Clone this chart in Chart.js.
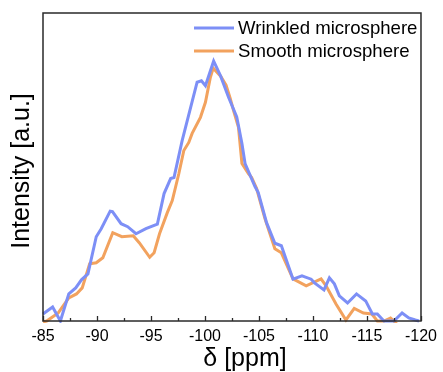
<!DOCTYPE html>
<html>
<head>
<meta charset="utf-8">
<script src="https://cdn.jsdelivr.net/npm/chart.js@4.4.0/dist/chart.umd.min.js"></script>
<style>
  html, body { margin: 0; padding: 0; background: #fff; }
  #wrap { width: 443px; height: 372px; }
</style>
</head>
<body>
<div id="wrap"><canvas id="c" width="443" height="372"></canvas></div>
<script>
// ---- data ----
const seriesNames = ['Wrinkled microsphere', 'Smooth microsphere'];
const xTitle = 'δ [ppm]';
const yTitle = 'Intensity [a.u.]';

const wrinkledPpm = [-85.0, -85.89, -86.61, -87.39, -88.03, -88.56, -89.16, -89.93, -90.39, -91.22, -91.43, -92.23, -92.84, -93.61, -94.53, -95.59, -96.21, -96.82, -97.13, -97.89, -99.27, -99.67, -100.04, -100.80, -101.45, -102.18, -102.94, -103.42, -103.71, -104.63, -104.93, -105.70, -106.47, -107.07, -108.15, -108.98, -109.83, -110.14, -111.02, -111.52, -111.98, -112.44, -113.20, -114.03, -114.88, -115.50, -115.96, -116.57, -117.49, -118.25, -118.87, -119.48, -119.82];
const wrinkledIntensity = [7, 14, 0, 27, 33, 41, 47, 84, 92, 109.5, 109, 97, 94, 87, 92, 96.5, 127, 142, 143, 180, 238, 239.5, 234.5, 259, 244, 223, 203.5, 177, 157, 134, 128, 98, 77.5, 75, 41.7, 45, 41.7, 38, 31, 43, 37, 25, 18, 27, 20, 7, 7, 0, 0, 8, 3, 1, 0];

const smoothPpm = [-85.0, -85.34, -86.41, -87.39, -88.10, -88.63, -89.32, -89.93, -90.54, -91.46, -92.30, -93.36, -93.91, -94.88, -95.29, -95.79, -96.51, -96.97, -97.58, -98.04, -98.50, -98.81, -99.58, -100.04, -100.50, -100.76, -101.45, -101.95, -102.33, -102.64, -103.10, -103.42, -104.02, -104.32, -104.78, -105.55, -106.47, -107.07, -108.15, -109.37, -110.75, -111.21, -112.13, -113.05, -113.82, -114.67, -115.45, -115.96, -116.57, -117.18, -117.49, -118.2];
const smoothIntensity = [-1, 0, 8, 23, 27, 33, 57, 58, 63, 88, 84, 85, 78, 63.5, 68, 87, 108, 120, 147, 170, 178, 187, 203, 218, 243, 252, 244, 235, 222, 210, 193, 157, 147, 143, 132, 102, 72, 68, 42, 35, 42, 35, 17, 1, 12.5, 8, 7, 0, 0, 3, 0, -8];

const xTickValues = [-85, -90, -95, -100, -105, -110, -115, -120];
const xMinorValues = [-87.5, -92.5, -97.5, -102.5, -107.5, -112.5, -117.5];

const seriesColors = ['#7d8ff6', '#f2a25e'];

// ---- build ----
function pts(xs, ys) { return xs.map((x, i) => ({ x: x, y: ys[i] })); }

const FONT = '"Liberation Sans", Arial, Helvetica, sans-serif';
Chart.defaults.font.family = FONT;
Chart.defaults.color = '#000';

const boxAndTicks = {
  id: 'boxAndTicks',
  afterDatasetsDraw(chart) {
    const { ctx, chartArea: a, scales } = chart;
    const x = scales.x;
    ctx.save();
    ctx.strokeStyle = '#2a2a2a';
    ctx.lineWidth = 1.5;
    ctx.strokeRect(a.left, a.top, a.right - a.left, a.bottom - a.top);
    ctx.lineWidth = 1.3;
    ctx.beginPath();
    xTickValues.forEach(v => {
      const px = Math.round(x.getPixelForValue(v)) + 0.5;
      ctx.moveTo(px, a.bottom); ctx.lineTo(px, a.bottom - 5);
    });
    xMinorValues.forEach(v => {
      const px = Math.round(x.getPixelForValue(v)) + 0.5;
      ctx.moveTo(px, a.bottom); ctx.lineTo(px, a.bottom - 3);
    });
    ctx.stroke();

    // legend (inside plot, top-right)
    const rows = [28, 51];
    chart.data.datasets.forEach((ds, i) => {
      ctx.strokeStyle = ds.borderColor;
      ctx.lineWidth = 3.2;
      ctx.beginPath();
      ctx.moveTo(194, rows[i]); ctx.lineTo(234, rows[i]);
      ctx.stroke();
      ctx.fillStyle = '#000';
      ctx.font = '18.6px ' + FONT;
      ctx.textBaseline = 'middle';
      ctx.textAlign = 'left';
      ctx.fillText(ds.label, 238, rows[i] + 1);
    });

    // axis titles
    ctx.fillStyle = '#000';
    ctx.textAlign = 'center';
    ctx.textBaseline = 'middle';
    ctx.font = '25px ' + FONT;
    ctx.fillText(xTitle, 245, 359);
    ctx.translate(22, 171);
    ctx.rotate(-Math.PI / 2);
    ctx.fillText(yTitle, 0, 0);
    ctx.restore();
  }
};

new Chart(document.getElementById('c'), {
  type: 'line',
  data: {
    datasets: [
      { label: seriesNames[0], data: pts(wrinkledPpm, wrinkledIntensity), borderColor: seriesColors[0], borderWidth: 3, pointRadius: 0, tension: 0, fill: false, clip: 2 },
      { label: seriesNames[1], data: pts(smoothPpm, smoothIntensity), borderColor: seriesColors[1], borderWidth: 3, pointRadius: 0, tension: 0, fill: false, clip: 2 }
    ]
  },
  options: {
    responsive: false,
    devicePixelRatio: 1,
    animation: false,
    events: [],
    layout: { padding: { top: 13, right: 19, left: 0, bottom: 0 } },
    plugins: { legend: { display: false }, tooltip: { enabled: false } },
    scales: {
      x: {
        type: 'linear',
        reverse: true,
        min: -120,
        max: -85,
        afterBuildTicks(scale) { scale.ticks = xTickValues.map(v => ({ value: v })); },
        ticks: { font: { size: 16 }, color: '#000', padding: 6, maxRotation: 0, autoSkip: false },
        grid: { display: false, drawTicks: false },
        border: { display: false },
        title: { display: false },
        afterFit(scale) { scale.height = 51; }
      },
      y: {
        min: 0,
        max: 307,
        ticks: { display: false },
        grid: { display: false, drawTicks: false },
        border: { display: false },
        title: { display: false },
        afterFit(scale) { scale.width = 43; }
      }
    }
  },
  plugins: [boxAndTicks]
});
</script>
</body>
</html>
